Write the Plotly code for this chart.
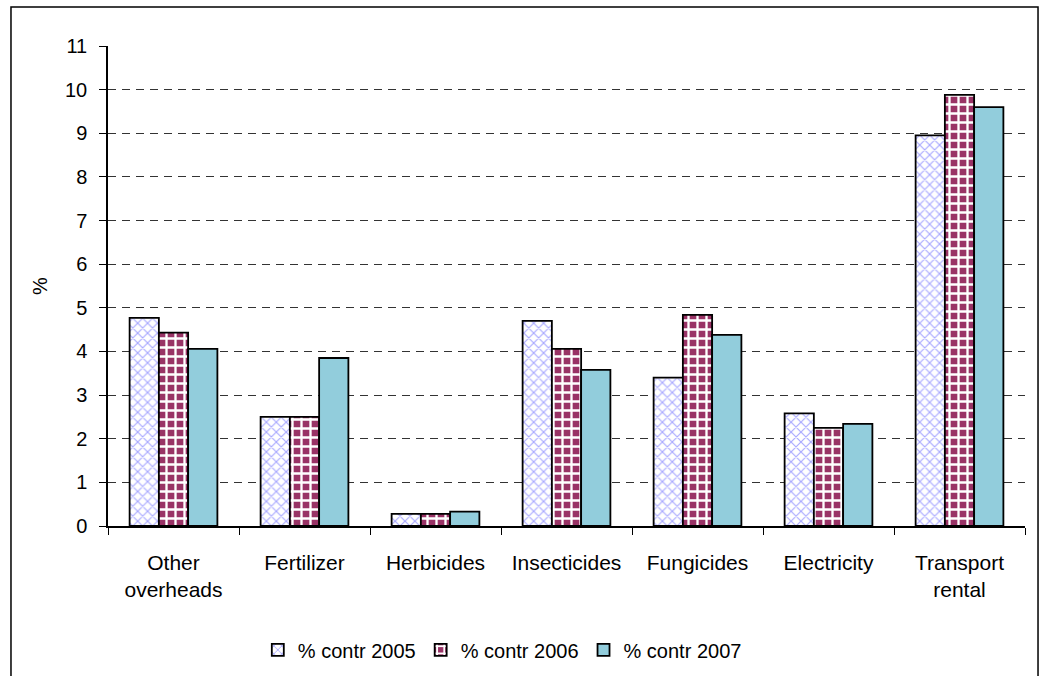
import plotly.graph_objects as go

categories = ["Other<br>overheads", "Fertilizer", "Herbicides", "Insecticides",
              "Fungicides", "Electricity", "Transport<br>rental"]
contr_2005 = [4.77, 2.50, 0.28, 4.70, 3.40, 2.58, 8.95]
contr_2006 = [4.43, 2.50, 0.28, 4.06, 4.84, 2.25, 9.88]
contr_2007 = [4.06, 3.85, 0.33, 3.58, 4.38, 2.34, 9.60]
y_ticks = list(range(0, 12))

FONT = "Liberation Sans, Arial, sans-serif"

fig = go.Figure()
fig.add_trace(go.Bar(
    x=categories, y=contr_2005, name="% contr 2005",
    marker=dict(color="white", line=dict(color="black", width=1.8),
                pattern=dict(shape="x", fgcolor="#A8A8FF", bgcolor="white",
                             size=7, solidity=0.3, fillmode="replace")),
))
fig.add_trace(go.Bar(
    x=categories, y=contr_2006, name="% contr 2006",
    marker=dict(color="#993366", line=dict(color="black", width=1.8),
                pattern=dict(shape="+", fgcolor="white", bgcolor="#993366",
                             size=9, solidity=0.45, fillmode="replace")),
))
fig.add_trace(go.Bar(
    x=categories, y=contr_2007, name="% contr 2007",
    marker=dict(color="#92CDDC", line=dict(color="black", width=1.8)),
))

# outer chart frame
fig.add_shape(type="rect", xref="paper", yref="paper",
              x0=-0.1058, x1=1.0142, y0=-0.33, y1=1.0812,
              line=dict(color="black", width=1.5), fillcolor="rgba(0,0,0,0)",
              layer="below")

fig.update_layout(
    width=1041, height=676,
    margin=dict(l=108, r=16, t=46, b=150, autoexpand=False),
    paper_bgcolor="white", plot_bgcolor="white",
    font=dict(family=FONT, size=20, color="black"),
    barmode="group", bargap=0.33, bargroupgap=0,
    showlegend=True,
    legend=dict(orientation="h", x=0.43, y=-0.258, xanchor="center",
                yanchor="middle", font=dict(size=20),
                itemwidth=30, tracegroupgap=0),
    xaxis=dict(
        type="category", tickson="boundaries", ticks="outside", ticklen=7,
        tickcolor="black", tickwidth=1, showline=True, linecolor="black",
        linewidth=1.5, showgrid=False, ticklabelstandoff=17,
        tickfont=dict(size=21), automargin=False,
    ),
    yaxis=dict(
        range=[0, 11], tickvals=y_ticks, ticks="outside", ticklen=7,
        tickcolor="black", showline=True, linecolor="black", linewidth=1.5,
        showgrid=True, gridcolor="#333333", gridwidth=1, griddash="8px,6px",
        zeroline=False, tickfont=dict(size=20), ticklabelstandoff=8,
        title=dict(text="%", font=dict(size=20), standoff=12),
        automargin=False,
    ),
)

fig.write_html("out.html")
